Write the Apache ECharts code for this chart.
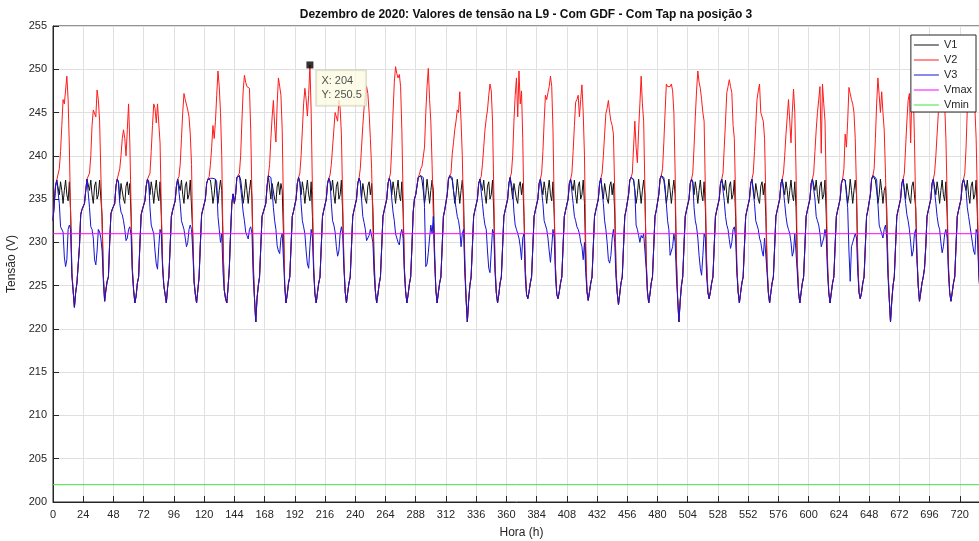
<!DOCTYPE html>
<html>
<head>
<meta charset="utf-8">
<script src="https://cdn.jsdelivr.net/npm/echarts@6/dist/echarts.min.js"></script>
<style>
html,body{margin:0;padding:0;background:#fff;}
#chart{width:979px;height:541px;}
</style>
</head>
<body>
<div id="chart"></div>
<script>
// ---- Data (hourly values, one row per day of December 2020) ----
const titleText = 'Dezembro de 2020: Valores de tensão na L9 - Com GDF - Com Tap na posição 3';
const seriesNames = ['V1', 'V2', 'V3', 'Vmax', 'Vmin'];
const xTicks = [0,24,48,72,96,120,144,168,192,216,240,264,288,312,336,360,384,408,432,456,480,504,528,552,576,600,624,648,672,696,720];
const yTicks = [200,205,210,215,220,225,230,235,240,245,250,255];
const vmaxLevel = [231, 231];
const vminLevel = [202, 202];
const limitX = [0, 744];
const tipX = [204];
const tipY = [250.5];

const V1rows = [
[232.5,234.5,236.5,237.2,237,235.5,237,236,234.5,236,237.2,235.5,234.8,237,233.5,226.5,224.4,222.5,224.2,225.3,225.5,229.5,233.2,233.8],
[233.6,234.5,236,237.3,237.2,236,237.2,235.5,234.5,236.5,237,235,235.5,237.2,237,233,226,223.2,224.5,225.5,226,230,233.3,233.8],
[233.8,234.5,236.5,237.3,237,235,236.8,237,235,234.5,236.5,237,235.5,236.8,233,227,224.5,223,223.8,225.3,226,229.8,233.2,233.8],
[233.8,234.8,236.5,237.3,237,235.5,237,236,234.5,236,237.2,235.5,234.8,237,233,227.5,225,224,223,224.8,226,229.5,233,233.7],
[233.7,234.8,236.5,237.3,237.2,236,237.2,235.5,234.5,236.5,237,235,235.5,237.2,237,231,225.5,224,223,224.5,226,229.8,233.2,233.8],
[233.8,235,236.8,237.3,237.3,237.2,236,234.5,235.5,237.3,236,234.5,236,237.2,236,230,224.5,223.5,223,224.8,227,231,234.5,235.6],
[234.5,235.5,237.5,237.7,237.7,237.2,236,234.5,235.5,237.3,236,234.5,236,237.2,235,228,223.5,220.8,223.5,225,226,229.5,233,233.5],
[233.5,234.5,236.5,237.7,237.7,235,236.8,237,235,234.5,236.5,237,235.5,236.8,236,231,225,223,224,225.3,226,229.5,233,233.6],
[233.6,235,236.8,237.5,237,235.5,237,236,234.5,236,237.2,235.5,234.8,237,233,227,224,223,224.2,225.3,226,229.5,233,233.7],
[233.7,235,236.8,237.4,237,236,237.2,235.5,234.5,236.5,237,235,235.5,237.2,233.5,227.5,224.3,223,224.2,225.3,226,229.5,233,233.7],
[233.7,235,236.8,237.4,237,235,236.8,237,235,234.5,236.5,237,235.5,236.8,234,228,224.3,223,224,225.2,226,229.5,233,233.7],
[233.7,235,236.8,237.4,237,235.5,237,236,234.5,236,237.2,235.5,234.8,237,233.5,227,224.3,223,224,225.2,226,229.5,233.5,235],
[235.5,236.5,237.5,237.7,237.7,237.2,236,234.5,235.5,237.3,236,234.5,236,237.2,236,229,224.5,223,224.2,225.3,226,229.5,233,233.7],
[233.7,235.5,237.3,237.7,237.7,237.2,236,234.5,235.5,237.3,236,234.5,236,237.2,235,228,223.5,220.8,223.2,225,226,229.5,233,233.7],
[233.7,235,236.8,237.3,237.2,236,237.2,235.5,234.5,236.5,237,235,235.5,237.2,233.5,227,224.2,223,224,225.3,226,229.5,233,233.7],
[233.7,235,236.8,237.5,237.5,235,236.8,237,235,234.5,236.5,237,235.5,236.8,233,227,224,223.5,224.3,225.3,226,229.5,233,233.7],
[233.7,235,236.8,237.3,237.2,235.5,237,236,234.5,236,237.2,235.5,234.8,237,233,227,224,223.5,224.3,225.3,226,229.5,233,233.7],
[233.7,235,236.8,237.3,237.2,236,237.2,235.5,234.5,236.5,237,235,235.5,237.2,234.5,228,224.3,223.3,224.3,225.3,226,229.5,233,233.7],
[233.7,235,236.8,237.4,237.2,235,236.8,237,235,234.5,236.5,237,235.5,236.8,233.5,227,224.2,222.8,224,225.3,226,229.5,233,233.7],
[233.7,235.5,237.2,237.5,237.5,237.2,236,234.5,235.5,237.3,236,234.5,236,237.2,235.5,228,224.3,223,224,225.3,226,229.5,233,233.7],
[233.7,235.5,237.3,237.7,237.7,237.2,236,234.5,235.5,237.3,236,234.5,236,237.2,235.5,228,223.5,220.8,223.2,225,226,229.5,233,233.7],
[233.7,235,236.8,237.3,237,235.5,237,236,234.5,236,237.2,235.5,234.8,237,234,227.5,224.2,223.5,224.3,225.3,226,229.5,233,233.7],
[233.7,235,236.8,237.3,237.2,236,237.2,235.5,234.5,236.5,237,235,235.5,237.2,233,227,224.3,223,224.2,225.3,226,229.5,233,233.7],
[233.7,235,236.8,237.3,237.2,235,236.8,237,235,234.5,236.5,237,235.5,236.8,233,227,224.2,223,224.2,225.3,226,229.5,233,233.7],
[233.7,235,236.8,237.3,237.2,235.5,237,236,234.5,236,237.2,235.5,234.8,237,234,227.5,224.2,223,224.2,225.3,226,229.5,233,233.7],
[233.7,235,236.8,237.3,237.2,236,237.2,235.5,234.5,236.5,237,235,235.5,237.2,233,227,224.2,223,224.2,225.3,226,229.5,233,233.7],
[233.7,235,236.8,237.3,237.3,237.2,236,234.5,235.5,237.3,236,234.5,236,237.2,235.5,228,224.2,223.5,224.2,225.3,226,229.5,233,233.7],
[233.7,235.5,237.3,237.7,237.7,237.2,236,234.5,235.5,237.3,236,234.5,236,236.5,234,227,223.5,220.8,223.2,225,226,229.5,233,233.7],
[233.7,235,236.8,237.3,237.2,235,236.8,237,235,234.5,236.5,237,235.5,234,228.5,225,223.2,224.2,225.3,226,227,229.5,233,233.7],
[233.7,235,236.8,237.3,237.2,235.5,237,236,234.5,236,237.2,235.5,234.8,237,233,227,224.2,223.2,224.2,225.3,226,229.5,233,233.7],
[233.7,235,236.8,237.3,237.2,236,237.2,235.5,234.5,236.5,237,235,235.5,237.2,233,227,224.2,223,224.2,225.3,226,229.5,233,233.7]
];

const V2rows = [
[232.5,234.5,236.5,237.2,237.4,238.5,240.5,243.5,246.5,246,246.2,249.2,246.5,241,233,226.5,224.4,222.5,224.2,225.3,225.5,229.5,233.2,233.8],
[233.6,234.5,236,237.3,237.5,238,240,243.5,245.3,245.5,244.5,247.6,246.5,244,238,232,226,223.2,224.5,225.5,226,230,233.3,233.8],
[233.8,234.5,236.5,237.3,237.5,238.5,240,242,243,242,240,243,246,241.5,234,227,224.5,223,223.8,225.3,226,229.8,233.2,233.8],
[233.8,234.8,236.5,237.3,237.5,238,240.5,243.5,246,245.5,243.8,246,245.8,241.5,234,227.5,225,224,223,224.8,226,229.5,233,233.7],
[233.7,234.8,236.5,237.3,237.6,239,242,245,247.2,246.5,246.5,245.3,244.5,242.5,239,230,225.5,224,223,224.5,226,229.8,233.2,233.8],
[233.8,235,236.8,237.3,237.6,239,241,243.5,242,244,247,249.8,248,245,240,230,224.5,223.5,223,224.8,227,231,234.5,235.6],
[234.5,235.5,237.5,237.7,238,240,244,247.5,249.3,248.5,248,248,247.8,243,235,227,223.5,220.8,223.5,225,226,229.5,233,233.5],
[233.5,234.5,236.5,237.7,239,242,244.5,246.4,243.5,241.6,246,249,248,247,243,234,225,223,224,225.3,226,229.5,233,233.6],
[233.6,235,236.8,237.5,238,240,243,246,247.8,246.5,244.6,247,250.5,245,236,227,224,223,224.2,225.3,226,229.5,233,233.7],
[233.7,235,236.8,237.4,237.8,239,241,243,245,245.2,244,246.4,245.5,242.5,235,227.5,224.3,223,224.2,225.3,226,229.5,233,233.7],
[233.7,235,236.8,237.4,238.5,241,243.5,245.5,247,248,247.2,245,242,238.5,232,226.5,224.3,223,224,225.2,226,229.5,233,233.7],
[233.7,235,236.8,237.4,238,241,245,248.5,250.3,249.5,249,249.4,248,243,235,227,224.3,223,224,225.2,226,229.5,233.5,235],
[235.5,236.5,237.5,237.9,238.5,238.8,238.8,241,245,248,250.1,246.5,244,239,233,228,224.5,223,224.2,225.3,226,229.5,233,233.7],
[233.7,235.5,237.3,237.7,238,240.2,241.5,243,244,245.3,245,247.4,244,240,233,227,223.5,220.8,223.2,225,226,229.5,233,233.7],
[233.7,235,236.8,237.3,237.6,239,241,243,244.3,245.3,247,248.3,247.5,244,236,227.5,224.2,223,224,225.3,226,229.5,233,233.7],
[233.7,235,236.8,237.5,238,240,244,247,249,244.5,249.8,246,247.5,242,233,227,224,223.5,224.3,225.3,226,229.5,233,233.7],
[233.7,235,236.8,237.3,238,240.5,244,247,246.5,247.3,248,249.2,248,243,234,227,224,223.5,224.3,225.3,226,229.5,233,233.7],
[233.7,235,236.8,237.3,238,240.5,243.5,246.2,246.5,247,244.5,246.5,248.2,245,240,230,224.3,223.3,224.3,225.3,226,229.5,233,233.7],
[233.7,235,236.8,237.4,238,240,242.5,244.9,245.5,246.4,245,244,243.5,242.5,236,227,224.2,222.8,224,225.3,226,229.5,233,233.7],
[233.7,235.5,237.2,237.5,238,241,244,241,239.2,243,246,249.2,246,244,236,228,224.3,223,224,225.3,226,229.5,233,233.7],
[233.7,235.5,237.3,237.7,238.5,241.5,245,248.3,248,247.8,248,248.3,247.5,245,238,228,223.5,220.8,223.2,225,226,229.5,233,233.7],
[233.7,235,236.8,237.3,238,241,244.5,247.5,249.8,248.5,247.8,246.5,245,244,236,228,224.2,223.5,224.3,225.3,226,229.5,233,233.7],
[233.7,235,236.8,237.3,238,241,244,247.3,248,248.8,248,247.3,243.5,242,235,227.5,224.3,223,224.2,225.3,226,229.5,233,233.7],
[233.7,235,236.8,237.3,238,240.5,243.5,246.5,247.5,248.3,245,245.2,244,242,235,227.5,224.2,223,224.2,225.3,226,229.5,233,233.7],
[233.7,235,236.8,237.3,238,240,242.5,244.5,246.5,244,241.5,245,247.7,245,238,228,224.2,223,224.2,225.3,226,229.5,233,233.7],
[233.7,235,236.8,237.3,238,240.5,243,245,246.5,248,240.3,248.3,246,244,236,228,224.2,223,224.2,225.3,226,229.5,233,233.7],
[233.7,235,236.8,237.3,238.5,242.5,241,244,247.9,247.2,246.5,246,245,242,236,228,224.2,223.5,224.2,225.3,226,229.5,233,233.7],
[233.7,235.5,237.3,237.7,238.5,242,246,249,247,245,247.4,245,243,238,232,227,223.5,220.8,223.2,225,226,229.5,233,233.7],
[233.7,235,236.8,237.3,238,241,244,246.4,247.2,241.5,247.5,248,242,234,228.5,225,223.2,224.2,225.3,226,227,229.5,233,233.7],
[233.7,235,236.8,237.3,238,240,242.5,245,247.5,248.5,249,248,246,242,235,227.5,224.2,223.2,224.2,225.3,226,229.5,233,233.7],
[233.7,235,236.8,237.3,238,241,245.5,247.5,248.5,249,248,247,245.5,242,235,227.5,224.2,223,224.2,225.3,226,229.5,233,233.7]
];

const V3rows = [
[232.5,234.5,236.5,237.2,237,234.5,231.8,231.6,231.2,228.3,227.2,228,231.5,232,231.5,226,224.4,222.5,224.2,225.3,225.5,229.5,233.2,233.8],
[233.6,234.5,236,237.3,237.2,234,231.8,231.5,230.5,228,227.4,229,231.5,231.2,230.5,229,225.5,223.2,224.5,225.5,226,230,233.3,233.8],
[233.8,234.5,236.5,237.3,237,234.5,233.5,233.2,232.5,231.5,230.2,230.5,231.5,231.8,230.8,226.5,224.5,223,223.8,225.3,226,229.8,233.2,233.8],
[233.8,234.8,236.5,237.3,237,234,232,231.8,231,229,227.5,226.9,229.5,231.5,231,227,225,224,223,224.8,226,229.5,233,233.7],
[233.7,234.8,236.5,237.3,237.2,234.5,232.5,232,231.5,230.5,229.5,230,231.5,232,231.5,229,225.5,224,223,224.5,226,229.8,233.2,233.8],
[233.8,235,236.8,237.3,237.3,237.4,237.3,237.4,237.2,237.3,237,233,231.5,230,231,226.5,224.5,223.5,223,224.8,227,231,234.5,235.6],
[234.5,235.5,237.5,237.7,237.7,237.5,235,233.5,232.5,231.2,230.8,230.4,231.5,231.8,231,226,223.5,220.8,223.5,225,226,229.5,233,233.5],
[233.5,234.5,236.5,237.7,237.7,237.5,236,234,232.5,231.5,229.6,229,228.7,230.5,231,228,225,223,224,225.3,226,229.5,233,233.6],
[233.6,235,236.8,237.5,237,234.5,232.5,231.8,231,229,227.5,227,229.5,231.5,230.5,226.5,224,223,224.2,225.3,226,229.5,233,233.7],
[233.7,235,236.8,237.4,237,234.5,232.5,232,231.2,229.5,228.4,229,231,231.8,231,227,224.3,223,224.2,225.3,226,229.5,233,233.7],
[233.7,235,236.8,237.4,237,235,233,232.3,231.5,230.2,230,230.8,231.5,231.5,230,226.5,224.3,223,224,225.2,226,229.5,233,233.7],
[233.7,235,236.8,237.4,237,235,233.5,232.5,231,230.5,230,229.7,231,231.5,230.5,226.5,224.3,223,224,225.2,226,229.5,233.5,235],
[235.5,236.5,237.5,237.7,237.7,237.7,237.5,234,227.2,227.5,228.8,230.5,232,231,233,228,224.5,223,224.2,225.3,226,229.5,233,233.7],
[233.7,235.5,237.3,237.7,237.7,237.5,236,235,234,233,232.5,231.5,229.5,231,231.5,226.5,223.5,220.8,223.2,225,226,229.5,233,233.7],
[233.7,235,236.8,237.3,237.2,234.5,233,232,231.5,229,227,226.5,229,231.5,231,226.5,224.2,223,224,225.3,226,229.5,233,233.7],
[233.7,235,236.8,237.5,237.5,236,233.5,232,231.5,231,230.5,229.5,228,230.5,231,226,224,223.5,224.3,225.3,226,229.5,233,233.7],
[233.7,235,236.8,237.3,237.2,234.5,232.5,232,231.5,230.5,229,227.7,229.5,231.5,230.5,226,224,223.5,224.3,225.3,226,229.5,233,233.7],
[233.7,235,236.8,237.3,237.2,234.5,233,232.5,231.8,231.5,231,230,229.5,228,230,226.5,224.3,223.3,224.3,225.3,226,229.5,233,233.7],
[233.7,235,236.8,237.4,237.2,234.5,232.5,231.5,230,228,227.6,228.5,230.5,231.5,230,226,224.2,222.8,224,225.3,226,229.5,233,233.7],
[233.7,235.5,237.2,237.5,237.5,237.3,236,232,231.5,230.8,230,230.8,230.5,231,231.2,227,224.3,223,224,225.3,226,229.5,233,233.7],
[233.7,235.5,237.3,237.7,237.7,237.5,236.5,234.5,232.5,231.5,228.5,228.4,229.5,231,230,226,223.5,220.8,223.2,225,226,229.5,233,233.7],
[233.7,235,236.8,237.3,237,234,232.5,231.8,230.5,228.5,227,226.2,228.5,231,230.5,226,224.2,223.5,224.3,225.3,226,229.5,233,233.7],
[233.7,235,236.8,237.3,237.2,234.8,233,232,231.5,230.3,229.3,230,231.5,231.8,230.5,226.5,224.3,223,224.2,225.3,226,229.5,233,233.7],
[233.7,235,236.8,237.3,237.2,234.5,232.5,232,231.5,230.5,230,229,228.4,230.5,230.5,226.5,224.2,223,224.2,225.3,226,229.5,233,233.7],
[233.7,235,236.8,237.3,237.2,234.5,233,232,231.5,231,230,228.4,229,231,231,226.5,224.2,223,224.2,225.3,226,229.5,233,233.7],
[233.7,235,236.8,237.3,237.2,235,233,232.5,232,231,229.5,230,230.5,231.5,230.5,226.5,224.2,223,224.2,225.3,226,229.5,233,233.7],
[233.7,235,236.8,237.3,237.3,237.2,235.5,234,229,225.5,229.5,230,230.5,231,230.5,226.5,224.2,223.5,224.2,225.3,226,229.5,233,233.7],
[233.7,235.5,237.3,237.7,237.7,237.5,237.2,234.5,232,231.5,231,230.5,231.5,232,230.5,226,223.5,220.8,223.2,225,226,229.5,233,233.7],
[233.7,235,236.8,237.3,237.2,234.5,233.2,232.5,231.5,230,228.4,229,231,231.5,228,225,223.2,224.2,225.3,226,227,229.5,233,233.7],
[233.7,235,236.8,237.3,237.2,234.5,233,232,231.5,230,228.8,229.5,231,231.5,230.5,226.5,224.2,223.2,224.2,225.3,226,229.5,233,233.7],
[233.7,235,236.8,237.3,237.2,236,234,233,232,231,230,229,228.6,231.5,231,226.5,224.2,223,224.2,225.3,226,229.5,233,233.7]
];

// ---- Build series points (x = hour index) ----
function toPoints(rows) {
  const flat = rows.flat();
  return flat.map(function (v, i) { return [i, v]; });
}
const v1 = toPoints(V1rows);
const v2 = toPoints(V2rows);
const v3 = toPoints(V3rows);
const vmax = limitX.map(function (x, i) { return [x, vmaxLevel[i]]; });
const vmin = limitX.map(function (x, i) { return [x, vminLevel[i]]; });
const tip = tipX.map(function (x, i) { return [x, tipY[i]]; });

const axisColor = '#262626';
const gridColor = '#e0e0e0';
const fontFam = '"Liberation Sans", Arial, Helvetica, sans-serif';

function lineSeries(name, data, color, z) {
  return {
    name: name, type: 'line', data: data, showSymbol: false, symbol: 'none',
    lineStyle: { color: color, width: 1 }, itemStyle: { color: color },
    z: z, silent: true, animation: false
  };
}

const chart = echarts.init(document.getElementById('chart'), null, { renderer: 'canvas' });
chart.setOption({
  animation: false,
  backgroundColor: '#ffffff',
  textStyle: { fontFamily: fontFam },
  title: {
    text: titleText, left: 521, top: 4, textAlign: 'center',
    textStyle: { fontSize: 12, fontWeight: 'bold', color: '#111', fontFamily: fontFam }
  },
  grid: { left: 53, right: -11, top: 26, bottom: 39, containLabel: false, outerBoundsMode: 'none',
    show: true, borderColor: axisColor, borderWidth: 1, backgroundColor: 'transparent' },
  legend: {
    data: seriesNames, orient: 'vertical', right: 3, top: 35,
    icon: 'rect',
    backgroundColor: '#ffffff', borderColor: axisColor, borderWidth: 1, borderRadius: 0,
    padding: [3, 4, 0, 3], itemGap: 1, itemWidth: 25, itemHeight: 1,
    textStyle: { fontSize: 11, lineHeight: 14, color: axisColor, fontFamily: fontFam }
  },
  xAxis: {
    type: 'value', min: 0, max: 744, interval: 24,
    name: 'Hora (h)', nameLocation: 'middle', nameGap: 25,
    nameTextStyle: { fontSize: 12, color: axisColor, fontFamily: fontFam },
    axisLine: { show: true, onZero: false, lineStyle: { color: axisColor, width: 1 } },
    axisTick: { show: true, inside: true, length: 6, lineStyle: { color: axisColor } },
    axisLabel: { fontSize: 11, color: axisColor, margin: 7, showMaxLabel: false, fontFamily: fontFam,
      formatter: function (v) { return xTicks.indexOf(v) >= 0 ? String(v) : ''; } },
    splitLine: { show: true, lineStyle: { color: gridColor, width: 1 } }
  },
  yAxis: {
    type: 'value', min: 200, max: 255, interval: 5,
    name: 'Tensão (V)', nameLocation: 'middle', nameGap: 29,
    nameTextStyle: { fontSize: 12, color: axisColor, fontFamily: fontFam },
    axisLine: { show: true, lineStyle: { color: axisColor, width: 1 } },
    axisTick: { show: true, inside: true, length: 6, lineStyle: { color: axisColor } },
    axisLabel: { fontSize: 11, color: axisColor, margin: 6, fontFamily: fontFam,
      formatter: function (v) { return yTicks.indexOf(v) >= 0 ? String(v) : ''; } },
    splitLine: { show: true, lineStyle: { color: gridColor, width: 1 } }
  },
  series: [
    lineSeries('V1', v1, '#111111', 2),
    lineSeries('V2', v2, '#ff1a1a', 3),
    lineSeries('V3', v3, '#1414d4', 4),
    lineSeries('Vmax', vmax, '#ff00ff', 5),
    lineSeries('Vmin', vmin, '#3fe03f', 5),
    {
      name: 'datatip', type: 'scatter', data: tip, symbol: 'rect', symbolSize: 7,
      itemStyle: { color: '#000000' }, z: 10, silent: true,
      label: {
        show: true, position: [10, 9], align: 'left', verticalAlign: 'top',
        formatter: function (p) { return 'X: ' + p.value[0] + '\nY: ' + p.value[1]; },
        fontSize: 11, lineHeight: 14, color: '#262626', fontFamily: fontFam,
        backgroundColor: '#fbfbe4', borderColor: '#c8c8b0', borderWidth: 1, padding: [4, 4, 3, 5]
      }
    }
  ]
});
</script>
</body>
</html>
